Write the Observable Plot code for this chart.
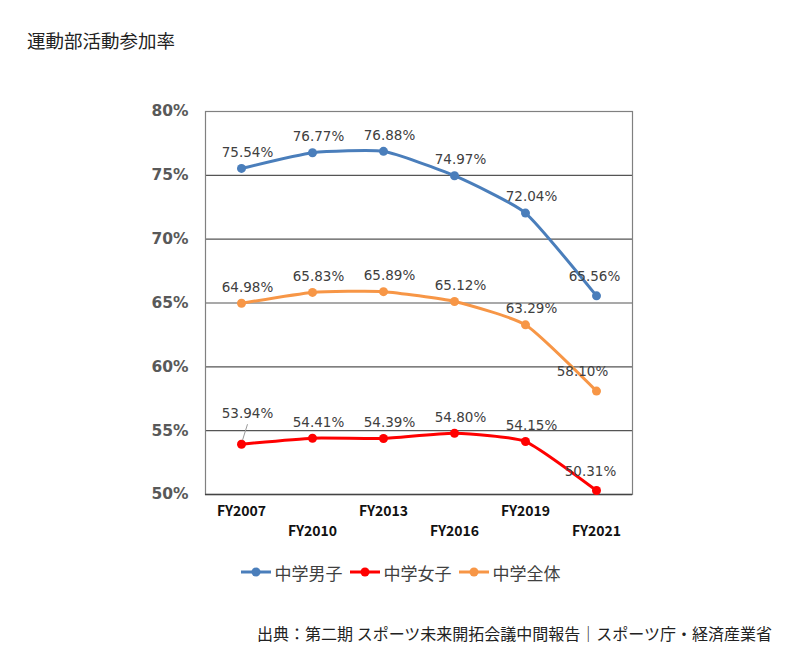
<!DOCTYPE html>
<html><head><meta charset="utf-8">
<script src="https://cdn.jsdelivr.net/npm/d3@7"></script>
<script src="https://cdn.jsdelivr.net/npm/@observablehq/plot@0.6"></script>
<style>
body{margin:0;background:#fff;font-family:"Noto Sans CJK JP",sans-serif;}
#wrap{position:relative;width:800px;height:663px;overflow:hidden;}
#chart{position:absolute;left:0;top:0;}
#title{position:absolute;left:27px;top:27px;font-size:18.5px;color:#222;line-height:26px;}
#legend{position:absolute;left:0;top:559px;width:800px;text-align:center;font-size:17px;color:#404040;}
#legend span.it{display:inline-flex;align-items:center;margin:0 3px;}
#legend svg{margin-right:3px;}
#caption{position:absolute;right:28px;top:621px;font-size:16px;color:#222;line-height:24px;white-space:nowrap;}
</style></head>
<body>
<div id="wrap">
<div id="chart"></div>
<div id="title">運動部活動参加率</div>
<div id="legend"></div>
<div id="caption">出典：第二期 スポーツ未来開拓会議中間報告｜スポーツ庁・経済産業省</div>
</div>
<script>
const years = ["FY2007","FY2010","FY2013","FY2016","FY2019","FY2021"];
const seriesNames = ["中学男子","中学女子","中学全体"];
const boys = [75.54,76.77,76.88,74.97,72.04,65.56];
const girls = [53.94,54.41,54.39,54.80,54.15,50.31];
const total = [64.98,65.83,65.89,65.12,63.29,58.10];
const yTicks = [50,55,60,65,70,75,80];
const colors = ["#4a7ebb","#ff0000","#f79646"];

const valuesBySeries = [boys, girls, total];
const data = [];
seriesNames.forEach((s,si)=>years.forEach((y,i)=>data.push({series:s, year:y, value:valuesBySeries[si][i], idx:i})));

function labelDx(d){
  if (d.series==="中学女子" && d.idx===0) return 6;
  if (d.idx===5) return d.series==="中学全体" ? -14 : (d.series==="中学女子" ? -6 : -2);
  return 6;
}
function labelDy(d){
  if (d.series==="中学女子" && d.idx===0) return -31;
  if (d.idx===5) return -19;
  return -16;
}
const labelData = data.map(d=>({...d, dxv: labelDx(d), dyv: labelDy(d)}));

const fontLab = "DejaVu Sans, Verdana, sans-serif";
const plot = Plot.plot({
  width:800, height:663,
  marginLeft:205, marginRight:168, marginTop:111, marginBottom:169,
  style:{background:"transparent", fontFamily:fontLab},
  x:{type:"point", domain:years, padding:0.5, axis:null},
  y:{domain:[50,80], ticks:yTicks, axis:null},
  color:{domain:seriesNames, range:colors},
  marks:[
    Plot.ruleY(yTicks, {stroke:"#555", strokeWidth:1.2}),
    Plot.frame({stroke:"#808080", strokeWidth:1.2}),
    Plot.ruleY([50], {stroke:"#444", strokeWidth:1.6}),
    Plot.text(yTicks, {frameAnchor:"left", y:d=>d, text:d=>d+"%", dx:-17, textAnchor:"end", fontWeight:"bold", fill:"#595959", fontSize:15.5, fontFamily:fontLab}),
    Plot.text(years.filter((d,i)=>i%2===0), {x:d=>d, frameAnchor:"bottom", dy:21, text:d=>d, fontWeight:"bold", fill:"#111", fontSize:14, fontFamily:"Noto Sans CJK JP, sans-serif"}),
    Plot.text(years.filter((d,i)=>i%2===1), {x:d=>d, frameAnchor:"bottom", dy:41, text:d=>d, fontWeight:"bold", fill:"#111", fontSize:14, fontFamily:"Noto Sans CJK JP, sans-serif"}),
    Plot.line(data, {x:"year", y:"value", z:"series", stroke:"series", strokeWidth:3, curve:"cardinal", tension:0.5}),
    Plot.dot(data, {x:"year", y:"value", fill:"series", r:4.5, stroke:"none"}),
    ...labelData.map(d=>Plot.text([d], {x:"year", y:"value", text:v=>v.value.toFixed(2)+"%", dx:d.dxv, dy:d.dyv, fill:"#404040", fontSize:13.5, fontFamily:fontLab})),
    Plot.link(data.filter(d=>d.series==="中学女子" && d.idx===0), {x1:"year", x2:"year", y1:"value", y2:"value", stroke:"#999", strokeWidth:1, render:(index, scales, values, dims, ctx, next)=>{
      const g = next(index, scales, values, dims, ctx);
      d3.select(g).selectAll("path").attr("transform","").attr("d", (_,j)=>{
        const i = index[j]; const x = values.x1[i], y = values.y1[i];
        return `M${x+1},${y-4}L${x+6},${y-20}`;
      });
      return g;
    }})
  ]
});
document.getElementById("chart").appendChild(plot);

const legend = document.getElementById("legend");
seriesNames.forEach((s,i)=>{
  const span = document.createElement("span");
  span.className="it";
  span.innerHTML = `<svg width="32" height="14"><line x1="1" y1="7" x2="31" y2="7" stroke="${colors[i]}" stroke-width="3"/><circle cx="16" cy="7" r="4.5" fill="${colors[i]}"/></svg>${s}`;
  legend.appendChild(span);
});
</script>
</body></html>
